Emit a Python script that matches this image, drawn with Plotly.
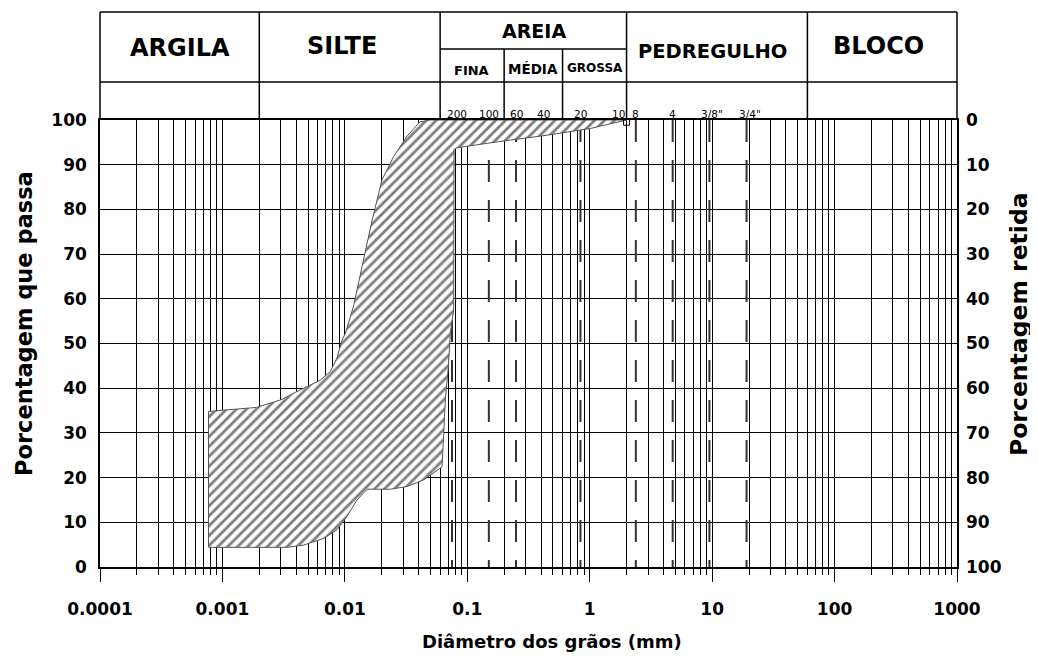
import math
import plotly.graph_objects as go

# ---------------- data ----------------
# Upper (fine-side) envelope of the gradation band: diameter (mm), % passing
fine_d = [0.00077, 0.00077, 0.0019, 0.0030, 0.0043, 0.0063, 0.0076, 0.0086, 0.0095,
          0.0101, 0.0111, 0.0118, 0.0142, 0.0167, 0.0201, 0.0250, 0.0320, 0.0410, 0.0500]
fine_p = [4.5, 34.8, 35.7, 37.4, 39.6, 41.8, 43.7, 46.7, 50.8,
          52.3, 56.0, 58.5, 68.7, 77.6, 86.6, 91.8, 96.3, 99.6, 100.0]
# Lower (coarse-side) envelope, from the top right back to the bottom left
coarse_d = [2.0, 1.01, 0.449, 0.175, 0.0826, 0.078, 0.0774, 0.0727, 0.0700, 0.0662,
            0.0638, 0.0622, 0.0441, 0.0322, 0.0235, 0.0152, 0.01256, 0.0104, 0.0086,
            0.0067, 0.0046, 0.00336, 0.00077]
coarse_p = [100.0, 98.1, 96.6, 95.1, 93.8, 93.4, 57.5, 52.3, 44.7, 37.4,
            30.0, 22.4, 19.5, 18.0, 17.4, 17.4, 15.0, 11.3, 8.3,
            6.4, 4.9, 4.4, 4.4]

# Sieves (opening in mm) and their labels
sieve_mm = [0.075, 0.15, 0.25, 0.42, 0.84, 2.0, 2.38, 4.76, 9.5, 19.1]
sieve_lbl = ["200", "100", "60", "40", "20", "10", "8", "4", '3/8"', '3/4"']
dashed_sieves = [0.075, 0.15, 0.25, 0.84, 2.38, 4.76, 9.5, 19.1]

# Soil fraction limits (mm)
limits_main = [0.002, 0.06, 2.0, 60.0]
limits_sand = [0.2, 0.6]

x_tick_vals = [0.0001, 0.001, 0.01, 0.1, 1, 10, 100, 1000]
x_tick_text = ["0.0001", "0.001", "0.01", "0.1", "1", "10", "100", "1000"]
y_ticks = [0, 10, 20, 30, 40, 50, 60, 70, 80, 90, 100]
minor_vals = [m * 10.0 ** e for e in range(-4, 3) for m in range(2, 10)]

# ---------------- geometry helpers ----------------
PAGE_OFF = 8                      # default body margin of the page
W, H = 1030, 655
PX0, PY0, PW, PH = 100, 120, 857, 447   # plot area in window pixels
L = PX0 - PAGE_OFF
T = PY0 - PAGE_OFF
R = W - L - PW
B = H - T - PH
XMIN, XMAX = -4, 3

def xp(d):
    return (math.log10(d) - XMIN) / (XMAX - XMIN)

def pxx(px):
    return (px - PX0) / PW

def pxy(py):
    return (PY0 + PH - py) / PH

FONT = "DejaVu Sans"
fig = go.Figure()

# dashed sieve lines
for d in dashed_sieves:
    fig.add_trace(go.Scatter(x=[d, d], y=[100, 0], mode="lines",
                             line=dict(color="#333333", width=2, dash="22px,18px"),
                             hoverinfo="skip", showlegend=False))

# hatched gradation band
fig.add_trace(go.Scatter(
    x=fine_d + coarse_d, y=fine_p + coarse_p, mode="lines", fill="toself",
    line=dict(color="#555555", width=1),
    fillcolor="white",
    fillpattern=dict(shape="/", fgcolor="black", bgcolor="white", size=7, solidity=0.4),
    hoverinfo="skip", showlegend=False))

# small sample marker
fig.add_trace(go.Scatter(x=[2.0], y=[99.5], mode="markers",
                         marker=dict(symbol="square-open", size=6, color="black", line=dict(width=1)),
                         hoverinfo="skip", showlegend=False, cliponaxis=False))

# dummy trace for right axis
fig.add_trace(go.Scatter(x=[1], y=[50], yaxis="y2", mode="markers",
                         marker=dict(opacity=0), hoverinfo="skip", showlegend=False))

shapes = []
LW = 1.5
top_y, sub_y, mid_y, bot_y = pxy(12), pxy(49), pxy(82), pxy(120)
for d in [0.0001, 1000] + limits_main:
    shapes.append(dict(type="line", xref="paper", yref="paper", x0=xp(d), x1=xp(d),
                       y0=bot_y, y1=top_y, line=dict(color="black", width=LW)))
for d in limits_sand:
    shapes.append(dict(type="line", xref="paper", yref="paper", x0=xp(d), x1=xp(d),
                       y0=bot_y, y1=sub_y, line=dict(color="black", width=LW)))
for yy in [top_y, mid_y]:
    shapes.append(dict(type="line", xref="paper", yref="paper", x0=0, x1=1,
                       y0=yy, y1=yy, line=dict(color="black", width=LW)))
shapes.append(dict(type="line", xref="paper", yref="paper", x0=xp(limits_main[1]), x1=xp(limits_main[2]),
                   y0=sub_y, y1=sub_y, line=dict(color="black", width=LW)))

annotations = []

def ann(text, px, py, size, bold=True, angle=0, xanchor="center"):
    annotations.append(dict(text=text, xref="paper", yref="paper", x=pxx(px), y=pxy(py),
                            xanchor=xanchor, yanchor="middle", showarrow=False, textangle=angle,
                            font=dict(family=FONT, size=size, color="black",
                                      weight="bold" if bold else "normal")))

ann("ARGILA", 180, 48, 24)
ann("SILTE", 342, 46, 24)
ann("AREIA", 534, 31, 19)
ann("FINA", 471, 70, 13)
ann("MÉDIA", 533, 69, 13.5)
ann("GROSSA", 595, 68, 12)
ann("PEDREGULHO", 712, 52, 19.5)
ann("BLOCO", 878, 46, 24)

sieve_shift = {"200": 5, "10": -8, '3/8"': 3, '3/4"': 3}
for d, t in zip(sieve_mm, sieve_lbl):
    annotations.append(dict(text=t, xref="paper", yref="paper", x=xp(d), y=pxy(114),
                            xshift=sieve_shift.get(t, 0), xanchor="center", yanchor="middle",
                            showarrow=False, font=dict(family=FONT, size=10.5, color="black")))

ann("Porcentagem que passa", 24, 324, 22.5, angle=-90)
ann("Porcentagem retida", 1019, 324, 23.5, angle=-90)
ann("Diâmetro dos grãos (mm)", 552, 641, 18)

tickfont = dict(family=FONT, size=17, color="black", weight="bold")

fig.update_layout(
    width=W, height=H,
    margin=dict(l=L, r=R, t=T, b=B, pad=0),
    paper_bgcolor="white", plot_bgcolor="white",
    showlegend=False,
    shapes=shapes, annotations=annotations,
    xaxis=dict(type="log", range=[XMIN, XMAX], tickmode="array",
               tickvals=x_tick_vals, ticktext=x_tick_text,
               showgrid=True, gridcolor="black", gridwidth=1.2,
               ticks="outside", ticklen=13, tickwidth=1.3, tickcolor="black",
               showline=True, linecolor="black", linewidth=2.2, mirror=True,
               tickfont=tickfont, ticklabelstandoff=12, zeroline=False,
               minor=dict(tickmode="array", tickvals=minor_vals, showgrid=True,
                          gridcolor="black", gridwidth=1.2, ticks="outside",
                          ticklen=6, tickwidth=1.2, tickcolor="black")),
    yaxis=dict(range=[0, 100], tickmode="array", tickvals=y_ticks,
               showgrid=True, gridcolor="black", gridwidth=1.2, ticks="",
               showline=True, linecolor="black", linewidth=1.6, mirror=True,
               tickfont=tickfont, ticklabelstandoff=8, zeroline=False),
    yaxis2=dict(range=[100, 0], overlaying="y", side="right", tickmode="array",
                tickvals=y_ticks, showgrid=False, ticks="", showline=False,
                tickfont=tickfont, ticklabelstandoff=8, zeroline=False),
)

fig.write_html("out.html")
